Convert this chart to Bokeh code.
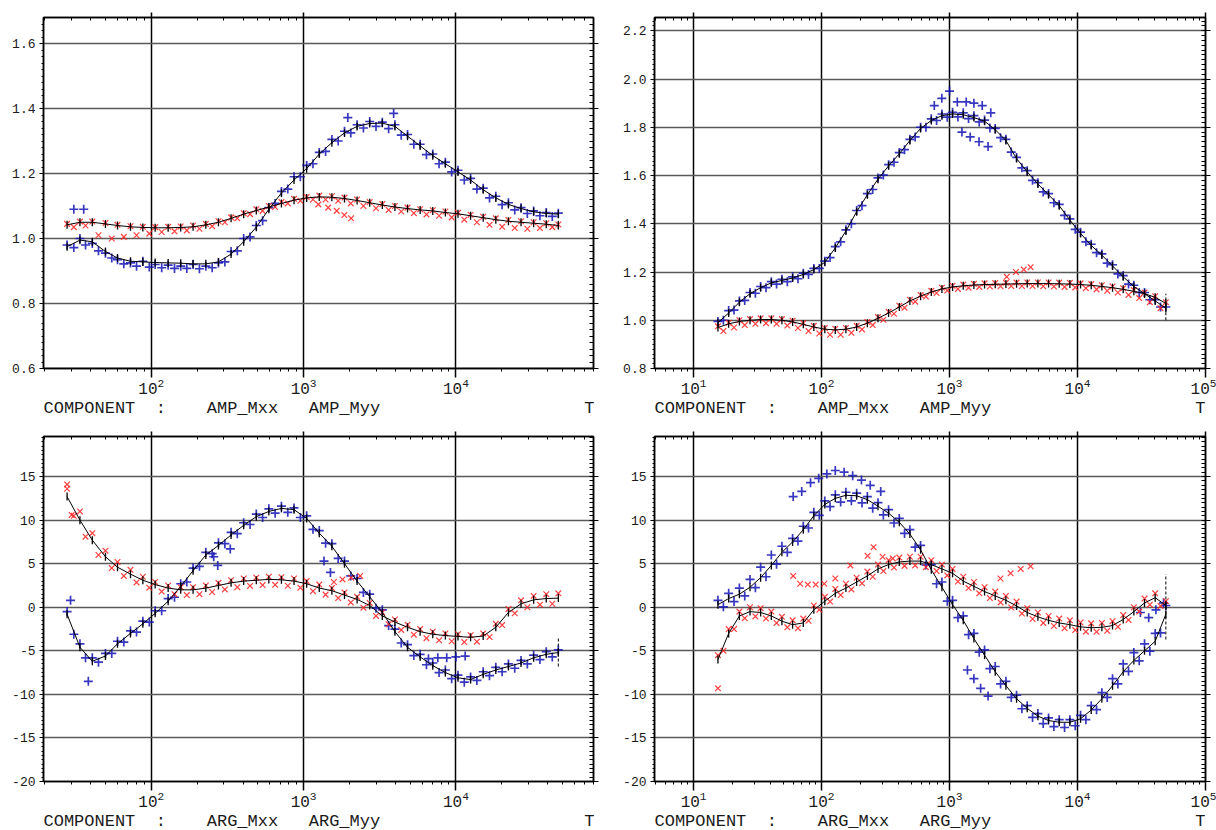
import numpy as np
from bokeh.plotting import figure
from bokeh.models import (Range1d, LinearAxis, LogAxis, FixedTicker, SingleIntervalTicker,
                          PrintfTickFormatter, CustomJSTickFormatter, LogTickFormatter, Title)
from bokeh.layouts import column, row
from bokeh.embed import file_html
from bokeh.resources import INLINE

FONT = "Liberation Mono"
TXT = "#1a1a1a"
BLUE = "#1414b4"
RED = "#ff1e1e"

# ---------------- periods (s) ----------------
T_left = [28, 34, 41, 50, 60, 73, 88, 106, 129, 156, 188, 228, 276, 334, 404, 489, 591, 715, 865, 1047,
          1267, 1533, 1855, 2244, 2716, 3286, 3976, 4811, 5821, 7044, 8523, 10313, 12479, 15099, 18270,
          22107, 26749, 32366, 39163, 47000]
T_left_b = [31, 37, 45, 55, 66, 80, 97, 117, 142, 171, 207, 251, 304, 367, 445, 538, 650, 787, 952, 1152,
            1394, 1686, 2040, 2469, 2987, 3615, 4374, 5292, 6403, 7748, 9375, 11344, 13727, 16609, 20097,
            24318, 29425, 35603, 42900]
T_right = [15.5, 18.8, 22.8, 27.6, 33.4, 40.5, 49, 59.4, 72, 87, 106, 128, 155, 188, 228, 276, 334, 405, 490,
           594, 720, 872, 1056, 1280, 1550, 1878, 2275, 2757, 3340, 4046, 4902, 5939, 7195, 8717, 10560,
           12794, 15500, 18778, 22750, 27560, 33390, 40450, 49000]
T_right_b = [17.1, 20.7, 25.1, 30.4, 36.8, 44.5, 54, 65.4, 79.1, 96, 116.5, 141, 171, 207, 251, 304, 368, 445,
             539, 654, 792, 960, 1163, 1408, 1706, 2067, 2504, 3035, 3676, 4453, 5395, 6537, 7920, 9594,
             11624, 14082, 17061, 20669, 25040, 30340, 36750, 44520]

# ---------------- top-left : AMP ----------------
tl_model_xx = [0.975, 0.995, 0.99, 0.96, 0.94, 0.93, 0.928, 0.926, 0.925, 0.924, 0.922, 0.922, 0.928, 0.952,
               0.99, 1.035, 1.09, 1.14, 1.18, 1.215, 1.26, 1.295, 1.325, 1.345, 1.354, 1.355, 1.345, 1.315,
               1.285, 1.255, 1.23, 1.205, 1.18, 1.15, 1.125, 1.105, 1.092, 1.082, 1.077, 1.075]
tl_xx_a = [0.98, 1.0, 0.985, 0.955, 0.935, 0.925, 0.93, 0.92, 0.918, 0.915, 0.92, 0.915, 0.925, 0.96, 1.0,
           1.04, 1.095, 1.145, 1.19, 1.225, 1.265, 1.305, 1.33, 1.35, 1.36, 1.358, 1.35, 1.32, 1.29, 1.26,
           1.235, 1.21, 1.185, 1.155, 1.13, 1.11, 1.095, 1.085, 1.08, 1.078]
tl_xx_b = [0.972, 0.98, 0.962, 0.94, 0.922, 0.915, 0.912, 0.91, 0.908, 0.908, 0.907, 0.91, 0.928, 0.962,
           1.005, 1.055, 1.108, 1.152, 1.19, 1.23, 1.268, 1.3, 1.325, 1.34, 1.345, 1.338, 1.318, 1.29, 1.258,
           1.23, 1.205, 1.18, 1.152, 1.125, 1.104, 1.088, 1.077, 1.07, 1.068]
tl_model_yy = [1.042, 1.05, 1.05, 1.045, 1.04, 1.036, 1.034, 1.033, 1.033, 1.034, 1.036, 1.042, 1.05, 1.062,
               1.075, 1.086, 1.097, 1.108, 1.118, 1.125, 1.128, 1.127, 1.123, 1.117, 1.11, 1.103, 1.097,
               1.092, 1.088, 1.085, 1.08, 1.076, 1.07, 1.064, 1.058, 1.053, 1.05, 1.047, 1.044, 1.04]
tl_yy_a = [1.045, 1.052, 1.052, 1.048, 1.042, 1.038, 1.036, 1.035, 1.036, 1.037, 1.04, 1.045, 1.053, 1.065,
           1.078, 1.09, 1.1, 1.112, 1.122, 1.128, 1.132, 1.13, 1.126, 1.12, 1.112, 1.106, 1.1, 1.095, 1.09,
           1.087, 1.083, 1.079, 1.073, 1.067, 1.062, 1.057, 1.053, 1.05, 1.047, 1.043]
tl_yy_b = [1.035, 1.04, 1.01, 1.0, 1.005, 1.01, 1.015, 1.02, 1.022, 1.025, 1.03, 1.038, 1.05, 1.062, 1.075,
           1.085, 1.097, 1.108, 1.116, 1.12, 1.12, 1.116, 1.108, 1.1, 1.093, 1.088, 1.083, 1.078, 1.074,
           1.07, 1.065, 1.058, 1.05, 1.042, 1.036, 1.032, 1.03, 1.032, 1.035]
tl_xx_out_T = [31, 36, 1950, 3900]
tl_xx_out = [1.09, 1.09, 1.372, 1.385]
tl_yy_out_T = [1250, 1450, 1650, 1850, 2050]
tl_yy_out = [1.105, 1.095, 1.085, 1.072, 1.062]
tl_end_T, tl_end_lo, tl_end_hi = [47000], [1.03], [1.055]

# ---------------- top-right : AMP ----------------
tr_model_xx = [0.99, 1.03, 1.075, 1.11, 1.135, 1.155, 1.165, 1.175, 1.19, 1.21, 1.24, 1.30, 1.37, 1.45, 1.52,
               1.585, 1.64, 1.69, 1.745, 1.795, 1.828, 1.848, 1.855, 1.852, 1.84, 1.825, 1.79, 1.745, 1.67,
               1.615, 1.565, 1.52, 1.475, 1.415, 1.36, 1.31, 1.27, 1.225, 1.18, 1.14, 1.11, 1.08, 1.05]
tr_xx_a = [0.995, 1.04, 1.08, 1.115, 1.14, 1.16, 1.17, 1.18, 1.195, 1.215, 1.245, 1.305, 1.375, 1.455, 1.525,
           1.59, 1.645, 1.695, 1.75, 1.8, 1.835, 1.855, 1.862, 1.86, 1.848, 1.83, 1.795, 1.75, 1.675, 1.62,
           1.57, 1.525, 1.48, 1.42, 1.365, 1.315, 1.275, 1.23, 1.185, 1.145, 1.115, 1.085, 1.055]
tr_xx_b = [1.0, 1.042, 1.082, 1.112, 1.135, 1.15, 1.16, 1.172, 1.19, 1.215, 1.26, 1.325, 1.4, 1.475, 1.542,
           1.602, 1.655, 1.707, 1.76, 1.8, 1.828, 1.842, 1.843, 1.836, 1.822, 1.797, 1.757, 1.697, 1.632, 1.58,
           1.532, 1.487, 1.435, 1.377, 1.325, 1.28, 1.237, 1.192, 1.15, 1.115, 1.085, 1.055]
tr_model_yy = [0.97, 0.985, 0.995, 1.0, 1.003, 1.003, 1.0, 0.993, 0.983, 0.972, 0.963, 0.96, 0.963, 0.972,
               0.988, 1.008, 1.03, 1.055, 1.08, 1.1, 1.117, 1.13, 1.138, 1.143, 1.146, 1.148, 1.149, 1.15,
               1.151, 1.152, 1.152, 1.152, 1.151, 1.15, 1.148, 1.145, 1.14, 1.135, 1.128, 1.12, 1.11, 1.095, 1.07]
tr_yy_a = [0.975, 0.99, 1.0, 1.005, 1.008, 1.008, 1.005, 0.998, 0.988, 0.977, 0.968, 0.965, 0.968, 0.977,
           0.993, 1.013, 1.035, 1.06, 1.085, 1.105, 1.122, 1.135, 1.143, 1.148, 1.151, 1.153, 1.154, 1.155,
           1.156, 1.157, 1.157, 1.157, 1.156, 1.155, 1.153, 1.15, 1.145, 1.14, 1.133, 1.125, 1.115, 1.1, 1.075]
tr_yy_b = [0.955, 0.97, 0.98, 0.985, 0.988, 0.985, 0.978, 0.968, 0.955, 0.945, 0.94, 0.94, 0.948, 0.962, 0.98,
           1.002, 1.027, 1.052, 1.077, 1.098, 1.113, 1.123, 1.13, 1.135, 1.138, 1.14, 1.141, 1.142, 1.142,
           1.142, 1.141, 1.14, 1.138, 1.136, 1.133, 1.128, 1.122, 1.115, 1.105, 1.092, 1.075, 1.05]
tr_xx_out_T = [760, 870, 1000, 1150, 1350, 1550, 1800, 2100, 1250, 1450, 1700, 2000]
tr_xx_out = [1.89, 1.92, 1.95, 1.905, 1.905, 1.9, 1.89, 1.86, 1.78, 1.76, 1.74, 1.72]
tr_yy_out_T = [2800, 3300, 3800, 4300]
tr_yy_out = [1.18, 1.2, 1.21, 1.22]
tr_end_T, tr_end_lo, tr_end_hi = [49000], [1.0], [1.11]

# ---------------- bottom-left : ARG ----------------
bl_model_xx = [-0.8, -4.6, -6.2, -5.6, -4.2, -3.0, -1.9, -0.7, 0.7, 2.4, 4.2, 6.0, 7.1, 8.3, 9.4, 10.4, 11.0,
               11.35, 11.2, 10.2, 8.5, 7.0, 5.0, 3.0, 1.2, -0.6, -2.8, -4.6, -5.7, -6.7, -7.5, -8.1, -8.3,
               -7.7, -7.2, -6.8, -6.4, -5.8, -5.4, -5.2]
bl_xx_a = [-0.5, -4.2, -5.8, -5.3, -3.9, -2.7, -1.6, -0.4, 1.0, 2.7, 4.5, 6.3, 7.4, 8.6, 9.7, 10.7, 11.3, 11.6,
           11.4, 10.5, 8.8, 7.3, 5.3, 3.3, 1.5, -0.3, -2.5, -4.3, -5.4, -6.4, -7.2, -7.8, -8.0, -7.4, -6.9,
           -6.5, -6.1, -5.5, -5.1, -4.9]
bl_xx_b = [-3.1, -5.8, -6.3, -5.3, -4.0, -2.85, -1.7, -0.4, 1.15, 2.9, 4.7, 6.15, 7.3, 8.45, 9.5, 10.3, 10.8,
           10.9, 10.3, 8.95, 7.35, 5.6, 3.6, 1.7, -0.1, -2.1, -4.1, -5.55, -6.6, -7.5, -8.2, -8.6, -8.4,
           -7.85, -7.4, -7.0, -6.5, -6.0, -5.7]
bl_model_yy = [12.7, 10.0, 7.7, 5.8, 4.6, 3.8, 3.1, 2.6, 2.2, 2.0, 2.0, 2.2, 2.5, 2.8, 3.0, 3.1, 3.2, 3.15, 3.0,
               2.7, 2.2, 1.9, 1.4, 0.9, 0.2, -1.0, -1.7, -2.3, -2.8, -3.1, -3.25, -3.35, -3.45, -3.3, -2.3,
               -0.6, 0.4, 0.85, 1.0, 1.05]
bl_yy_a = [13.6, 11.0, 8.5, 6.5, 5.2, 4.3, 3.5, 2.9, 2.5, 2.3, 2.3, 2.5, 2.8, 3.1, 3.3, 3.4, 3.5, 3.45, 3.3,
           3.0, 2.6, 2.2, 1.7, 1.2, 0.5, -0.6, -1.4, -2.0, -2.5, -2.8, -3.0, -3.1, -3.2, -3.0, -1.9, -0.2,
           0.8, 1.3, 1.5, 1.6]
bl_yy_b = [10.5, 8.1, 6.0, 4.5, 3.6, 2.85, 2.25, 1.8, 1.5, 1.4, 1.5, 1.75, 2.05, 2.3, 2.45, 2.55, 2.57, 2.47,
           2.25, 1.85, 1.45, 1.05, 0.55, -0.05, -1.0, -1.95, -2.6, -3.15, -3.55, -3.8, -3.9, -4.0, -3.95,
           -3.4, -2.05, -0.7, 0.0, 0.3, 0.4]
bl_xx_out_T = [29.5, 38.6, 257, 273, 330, 1360, 1500, 6600, 7600, 8700, 10000, 11500]
bl_xx_out = [0.8, -8.5, 5.8, 4.8, 6.7, 5.3, 4.0, -5.9, -5.8, -5.8, -5.7, -5.6]
bl_yy_out_T = [28, 30, 1580, 1800, 2050, 2350]
bl_yy_out = [14.1, 10.6, 2.9, 3.2, 3.4, 3.6]
bl_end_T, bl_end_lo, bl_end_hi = [47000], [-6.8], [-3.5]

# ---------------- bottom-right : ARG ----------------
br_model_xx = [0.3, 1.0, 1.5, 2.3, 3.4, 4.8, 6.3, 7.5, 8.9, 10.5, 11.8, 12.5, 12.85, 12.8, 12.35, 11.6, 10.8,
               9.75, 8.4, 6.6, 4.3, 2.3, 0.3, -1.5, -3.6, -5.5, -7.4, -9.0, -10.5, -11.6, -12.5, -13.0, -13.2,
               -13.2, -12.8, -11.8, -10.5, -9.0, -7.4, -6.1, -5.0, -3.9, -0.8]
br_xx_a = [0.8, 1.6, 2.2, 3.2, 4.6, 6.0, 7.0, 7.9, 9.3, 10.9, 12.2, 12.9, 13.2, 13.1, 12.7, 12.0, 11.2, 10.2,
           8.9, 7.1, 4.9, 2.9, 0.8, -1.0, -3.0, -4.9, -6.8, -8.5, -10.1, -11.3, -12.2, -12.7, -12.9, -12.9,
           -12.4, -11.3, -9.8, -8.2, -6.5, -5.2, -4.2, -3.0, 0.2]
br_xx_b = [0.05, 0.65, 1.3, 2.25, 3.5, 4.95, 6.3, 7.6, 9.1, 10.55, 11.55, 12.07, 12.22, 11.97, 11.37, 10.6,
           9.67, 8.47, 6.9, 4.85, 2.7, 0.7, -1.2, -3.15, -5.15, -7.05, -8.8, -10.35, -11.65, -12.65, -13.35,
           -13.7, -13.8, -13.6, -12.9, -11.75, -10.35, -8.8, -7.35, -6.15, -5.05, -2.95]
br_model_yy = [-6.0, -3.0, -1.0, -0.5, -0.6, -1.0, -1.6, -2.0, -1.8, -0.3, 0.7, 1.6, 2.2, 2.9, 3.6, 4.4, 4.9,
               5.2, 5.3, 5.3, 4.9, 4.4, 3.9, 3.0, 2.4, 1.8, 1.3, 0.8, 0.15, -0.6, -1.1, -1.5, -1.8, -2.0,
               -2.25, -2.35, -2.3, -2.1, -1.4, -0.5, 0.5, 1.1, 0.2]
br_yy_a = [-5.5, -2.5, -0.5, 0.0, -0.1, -0.5, -1.1, -1.5, -1.3, 0.2, 1.2, 2.1, 2.7, 3.4, 4.1, 4.9, 5.4, 5.7,
           5.8, 5.8, 5.4, 4.9, 4.4, 3.5, 2.9, 2.3, 1.8, 1.3, 0.65, -0.1, -0.6, -1.0, -1.3, -1.5, -1.75, -1.85,
           -1.8, -1.6, -0.9, 0.0, 1.0, 1.6, 0.7]
br_yy_b = [-5.0, -2.5, -1.25, -1.05, -1.3, -1.8, -2.3, -2.4, -1.55, -0.3, 0.65, 1.4, 2.05, 2.75, 3.5, 4.15,
           4.55, 4.75, 4.8, 4.6, 4.15, 3.65, 2.95, 2.2, 1.6, 1.05, 0.55, -0.03, -0.72, -1.35, -1.8, -2.15,
           -2.4, -2.62, -2.8, -2.82, -2.7, -2.25, -1.45, -0.5, 0.3, 0.15]
br_xx_out_T = [60, 70, 82, 95, 110, 128, 150, 175, 205, 240, 290, 1380, 1550, 1750, 2000, 31000, 36000,
               41000, 47000]
br_xx_out = [12.7, 13.3, 14.3, 14.8, 15.3, 15.7, 15.5, 15.1, 14.6, 14.0, 13.3, -7.2, -8.2, -9.3, -10.2, -0.6,
             -1.2, -0.3, 0.5]
br_yy_out_T = [15.5, 60, 68, 78, 90, 105, 128, 168, 229, 255, 300, 360, 2500, 3000, 3600, 4300]
br_yy_out = [-9.3, 3.6, 2.7, 2.6, 2.6, 2.7, 3.3, 4.8, 5.9, 6.9, 5.8, 5.6, 3.3, 3.9, 4.4, 4.7]
br_end_T, br_end_lo, br_end_hi = [49000], [-3.7], [3.8]

# ---------------- axes / labels ----------------
DECADES = [10, 100, 1000, 10000, 100000]
MINOR_X = [m * d for d in [1, 10, 100, 1000, 10000] for m in range(2, 10)]
AMP_NAMES = ["AMP_Mxx", "AMP_Myy"]
ARG_NAMES = ["ARG_Mxx", "ARG_Myy"]
NB = "\u00a0"


def blank():
    return CustomJSTickFormatter(code="return ''")


def component_line(names):
    # monospace line: COMPONENT at col 0, ':' col 11, names at col 16 and 26, 'T' at col 53
    s = "COMPONENT" + NB * 2 + ":" + NB * 4 + names[0] + NB * 3 + names[1]
    s = s + NB * (53 - len(s)) + "T"
    return s


def panel(width, height, borders, x_range, y_range, y_interval, y_format, names,
          T_a, T_b, mxx, myy, xa, xb, ya, yb, oxT, ox, oyT, oy, eT, elo, ehi):
    bl, br, bt, bb = borders
    p = figure(width=width, height=height, x_axis_type="log",
               x_range=Range1d(*x_range), y_range=Range1d(*y_range),
               output_backend="svg", toolbar_location=None,
               min_border_left=bl, min_border_right=br, min_border_top=bt, min_border_bottom=bb,
               background_fill_color="white", border_fill_color="white",
               outline_line_color="black", outline_line_width=1.5)
    xt = FixedTicker(ticks=DECADES, minor_ticks=MINOR_X)
    yt = SingleIntervalTicker(interval=y_interval, num_minor_ticks=10)

    xb_ax = p.xaxis[0]
    xb_ax.ticker = xt
    xb_ax.formatter = LogTickFormatter()
    xb_ax.major_tick_out, xb_ax.major_tick_in = 9, 0
    xb_ax.minor_tick_out, xb_ax.minor_tick_in = 3, 0
    xb_ax.axis_line_width = 1.5
    xb_ax.major_tick_line_width = 1.5
    xb_ax.major_label_standoff = 0
    xb_ax.major_label_text_font = FONT
    xb_ax.major_label_text_font_size = "16px"
    xb_ax.major_label_text_color = TXT

    xtop = LogAxis(ticker=xt, formatter=blank(), major_tick_out=5, major_tick_in=0,
                   minor_tick_in=3, minor_tick_out=0, axis_line_width=1.5, major_tick_line_width=1.5)
    p.add_layout(xtop, "above")

    yl = p.yaxis[0]
    yl.ticker = yt
    yl.formatter = PrintfTickFormatter(format=y_format)
    yl.major_tick_out, yl.major_tick_in = 4, 0
    yl.minor_tick_out, yl.minor_tick_in = 2, 0
    yl.axis_line_width = 1.5
    yl.major_label_standoff = 4
    yl.major_label_text_font = FONT
    yl.major_label_text_font_size = "13px"
    yl.major_label_text_color = TXT

    yr = LinearAxis(ticker=yt, formatter=blank(), major_tick_out=5, major_tick_in=0,
                    minor_tick_in=4, minor_tick_out=0, axis_line_width=1.5)
    p.add_layout(yr, "right")

    p.xgrid[0].ticker = xt
    p.xgrid[0].grid_line_color = "black"
    p.xgrid[0].grid_line_width = 1.5
    p.ygrid[0].ticker = yt
    p.ygrid[0].grid_line_color = "#5a5a5a"
    p.ygrid[0].grid_line_width = 1.5

    # observations
    bkw = dict(marker="cross", size=9, line_color=BLUE, line_width=1.7, alpha=0.85)
    rkw = dict(marker="x", size=8, line_color=RED, line_width=1.2, alpha=0.85)
    p.scatter(T_b, xb, **bkw)
    p.scatter(T_a, xa, **bkw)
    p.scatter(oxT, ox, **bkw)
    p.scatter(T_b, yb, **rkw)
    p.scatter(T_a, ya, **rkw)
    p.scatter(oyT, oy, **rkw)
    # model curves with error ticks
    for m in (mxx, myy):
        p.line(T_a, m, line_color="black", line_width=1)
        p.scatter(T_a, m, marker="dash", angle=np.pi / 2, size=8, line_color="black", line_width=1.3)
    p.segment(x0=eT, y0=elo, x1=eT, y1=ehi, line_color="black", line_width=1, line_dash="3 2")

    p.add_layout(Title(text=component_line(names), align="left", standoff=0,
                       text_font=FONT, text_font_size="17px", text_font_style="normal",
                       text_color=TXT), "below")
    return p


p1 = panel(608, 418, (43, 15, 17, 50), (19.6, 80000), (0.6, 1.68), 0.2, "%.1f", AMP_NAMES,
           T_left, T_left_b, tl_model_xx, tl_model_yy, tl_xx_a, tl_xx_b, tl_yy_a, tl_yy_b,
           tl_xx_out_T, tl_xx_out, tl_yy_out_T, tl_yy_out, tl_end_T, tl_end_lo, tl_end_hi)
p2 = panel(608, 418, (46, 11, 17, 50), (4.95, 100000), (0.8, 2.255), 0.2, "%.1f", AMP_NAMES,
           T_right, T_right_b, tr_model_xx, tr_model_yy, tr_xx_a, tr_xx_b, tr_yy_a, tr_yy_b,
           tr_xx_out_T, tr_xx_out, tr_yy_out_T, tr_yy_out, tr_end_T, tr_end_lo, tr_end_hi)
p3 = panel(608, 412, (43, 15, 18, 44), (19.6, 80000), (-20, 19.6), 5, "%d", ARG_NAMES,
           T_left, T_left_b, bl_model_xx, bl_model_yy, bl_xx_a, bl_xx_b, bl_yy_a, bl_yy_b,
           bl_xx_out_T, bl_xx_out, bl_yy_out_T, bl_yy_out, bl_end_T, bl_end_lo, bl_end_hi)
p4 = panel(608, 412, (46, 11, 18, 44), (4.95, 100000), (-20, 19.6), 5, "%d", ARG_NAMES,
           T_right, T_right_b, br_model_xx, br_model_yy, br_xx_a, br_xx_b, br_yy_a, br_yy_b,
           br_xx_out_T, br_xx_out, br_yy_out_T, br_yy_out, br_end_T, br_end_lo, br_end_hi)

layout = column(row(p1, p2), row(p3, p4))
open("out.html", "w").write(file_html(layout, INLINE))
